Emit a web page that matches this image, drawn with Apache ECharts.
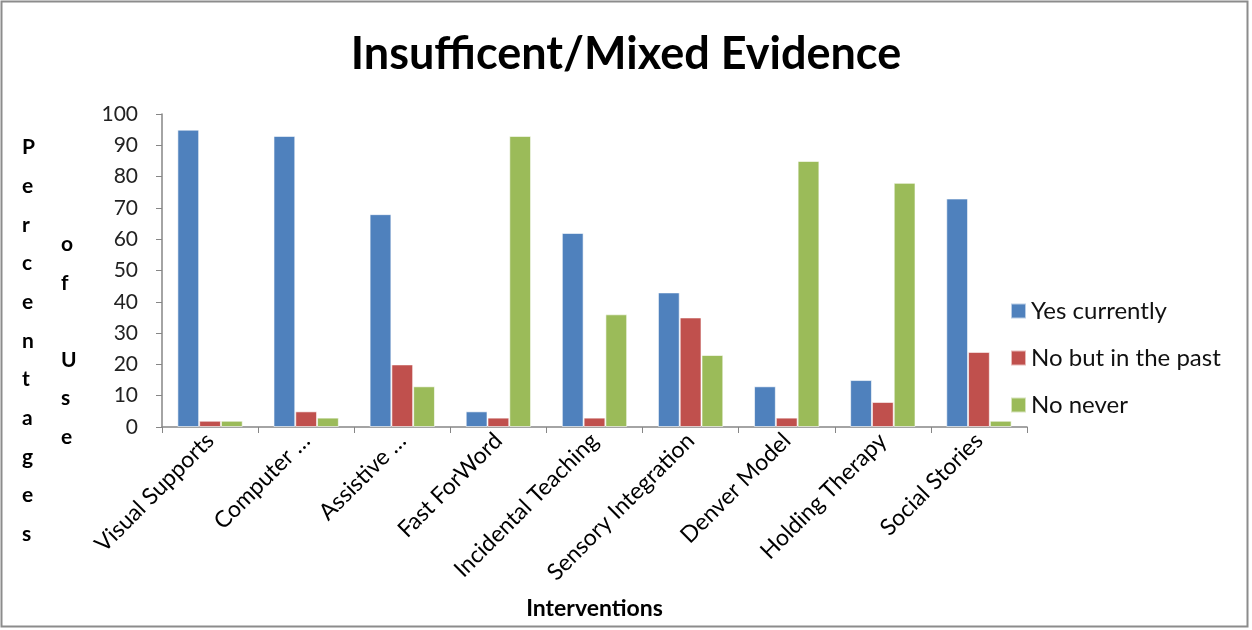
<!DOCTYPE html>
<html><head><meta charset="utf-8">
<script src="https://cdn.jsdelivr.net/npm/echarts@6/dist/echarts.min.js"></script>
<style>html,body{margin:0;padding:0;background:#fff}#c{width:1252px;height:630px}</style>
</head><body><div id="c"></div>
<script>
const categories = ['Visual Supports','Computer …','Assistive …','Fast ForWord','Incidental Teaching','Sensory Integration','Denver Model','Holding Therapy','Social Stories'];
const yesCurrently = [95, 93, 68, 5, 62, 43, 13, 15, 73];
const noButPast = [2, 5, 20, 3, 3, 35, 3, 8, 24];
const noNever = [2, 3, 13, 93, 36, 23, 85, 78, 2];
const seriesNames = ['Yes currently','No but in the past','No never'];
const colors = ['#4F81BD','#C0504D','#9BBB59'];
const FONT = 'Lato, "Open Sans", sans-serif';

const chart = echarts.init(document.getElementById('c'), null, {renderer:'canvas'});
const mk = (name, data, color) => ({
  name, type:'bar', data, barGap:'0%', barCategoryGap:'32%',
  itemStyle:{color, borderColor:'rgba(255,255,255,0.6)', borderWidth:1}
});
chart.setOption({
  animation:false,
  backgroundColor:'#fff',
  title:{text:'Insufficent/Mixed Evidence', left:'center', top:27,
    textStyle:{fontFamily:FONT, fontSize:45, fontWeight:'bold', color:'#000'}},
  grid:{left:162, right:225, top:114, bottom:203, containLabel:false},
  legend:{orient:'vertical', left:1005, top:294, itemWidth:15, itemHeight:15, itemGap:23,
    icon:'rect', textStyle:{fontFamily:FONT, fontSize:24, color:'#111'}, data:seriesNames},
  xAxis:{type:'category', data:categories,
    name:'Interventions', nameLocation:'middle', nameGap:170,
    nameTextStyle:{fontFamily:FONT, fontSize:23, fontWeight:'bold', color:'#000'},
    axisLine:{lineStyle:{color:'#868686', width:1.5}},
    axisTick:{show:true, length:6, lineStyle:{color:'#868686'}},
    axisLabel:{rotate:45, interval:0, fontFamily:FONT, fontSize:23, color:'#000', margin:10}},
  yAxis:{type:'value', min:0, max:100, interval:10,
    axisLine:{show:true, lineStyle:{color:'#868686', width:1.5}},
    axisTick:{show:true, length:6, lineStyle:{color:'#868686'}},
    splitLine:{show:false},
    axisLabel:{fontFamily:FONT, fontSize:21, color:'#222', margin:24}},
  graphic:[
    {type:'rect', shape:{x:1.5, y:1.5, width:1246, height:625}, style:{fill:'none', stroke:'#8c8c8c', lineWidth:2}, silent:true},
    {type:'text', left:22, top:128, style:{text:'P\ne\nr\nc\ne\nn\nt\na\ng\ne\ns', fontFamily:FONT, fontSize:21, fontWeight:'bold', lineHeight:38.7, fill:'#000', align:'center'}},
    {type:'text', left:61, top:225, style:{text:'o\nf\n \nU\ns\ne', fontFamily:FONT, fontSize:21, fontWeight:'bold', lineHeight:38.5, fill:'#000', align:'center'}}
  ],
  series:[mk(seriesNames[0], yesCurrently, colors[0]), mk(seriesNames[1], noButPast, colors[1]), mk(seriesNames[2], noNever, colors[2])]
});
</script></body></html>
